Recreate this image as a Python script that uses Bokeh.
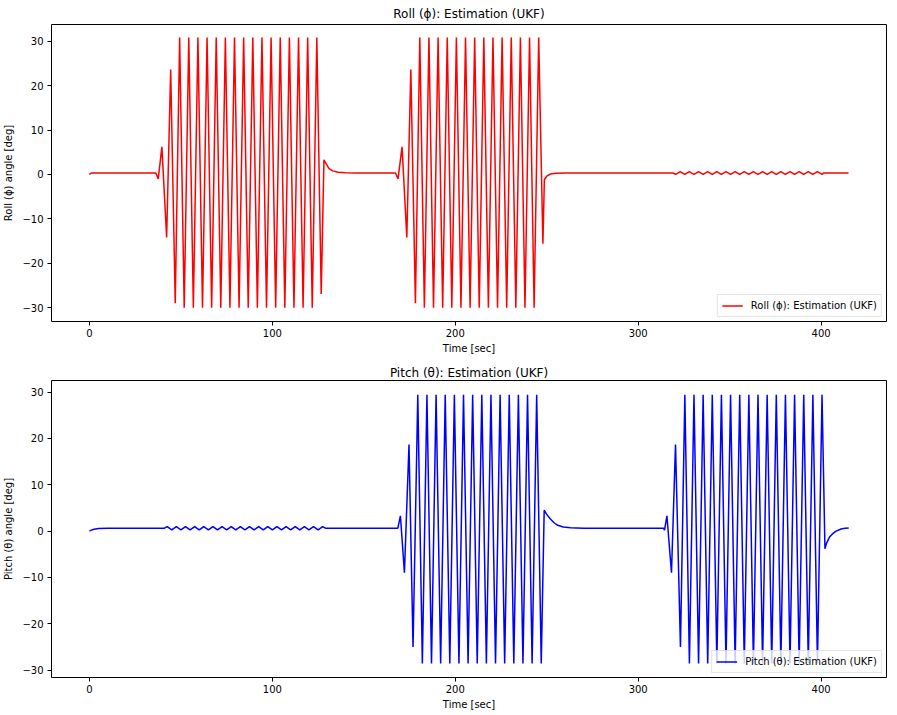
from bokeh.plotting import figure
from bokeh.models import ColumnDataSource, Range1d, FixedTicker, Legend, LegendItem
from bokeh.layouts import column
from bokeh.embed import file_html
from bokeh.resources import INLINE

# ---------------- data ----------------
roll_t = [
    0.0, 1.0, 36.3,
    37.6, 39.6, 42.2, 44.4, 46.9, 49.3,
    51.8, 54.3, 56.8, 59.3, 61.8, 64.3, 66.8, 69.3, 71.8, 74.3, 76.8, 79.3,
    81.8, 84.3, 86.8, 89.3, 91.8, 94.3, 96.8, 99.3, 101.8, 104.3, 106.8, 109.3,
    111.8, 114.3, 116.8, 119.3, 121.8, 124.3,
    126.7, 128.2, 129.5, 131.0, 133.0, 136.0, 140.0, 146.0, 167.3,
    168.7, 170.9, 173.5, 175.7, 178.2, 180.6,
    183.1, 185.6, 188.1, 190.6, 193.1, 195.6, 198.1, 200.6, 203.1, 205.6,
    208.1, 210.6, 213.1, 215.6, 218.1, 220.6, 223.1, 225.6, 228.1, 230.6,
    233.1, 235.6, 238.1, 240.6, 243.1, 245.6,
    247.9, 248.7, 250.0, 252.0, 255.0, 260.0, 319.0,
    320.5, 323.0, 325.5, 328.0, 330.5, 333.0, 335.5, 338.0, 340.5, 343.0,
    345.5, 348.0, 350.5, 353.0, 355.5, 358.0, 360.5, 363.0, 365.5, 368.0,
    370.5, 373.0, 375.5, 378.0, 380.5, 383.0, 385.5, 388.0, 390.5, 393.0,
    395.5, 398.0, 400.5,
    401.5, 415.0,
]
roll_v = [
    0.0, 0.33, 0.33,
    -1.0, 6.2, -14.2, 23.6, -29.0, 30.8,
    -30.0, 30.8, -30.0, 30.8, -30.0, 30.8, -30.0, 30.8, -30.0, 30.8, -30.0, 30.8,
    -30.0, 30.8, -30.0, 30.8, -30.0, 30.8, -30.0, 30.8, -30.0, 30.8, -30.0, 30.8,
    -30.0, 30.8, -30.0, 30.8, -30.0, 30.8,
    -26.9, 3.3, 2.3, 1.3, 0.8, 0.5, 0.4, 0.33, 0.33,
    -1.0, 6.2, -14.2, 23.6, -29.0, 30.8,
    -30.0, 30.8, -30.0, 30.8, -30.0, 30.8, -30.0, 30.8, -30.0, 30.8,
    -30.0, 30.8, -30.0, 30.8, -30.0, 30.8, -30.0, 30.8, -30.0, 30.8,
    -30.0, 30.8, -30.0, 30.8, -30.0, 30.8,
    -15.6, -1.2, -0.4, 0.1, 0.25, 0.33, 0.33,
    0.03, 0.63, 0.03, 0.63, 0.03, 0.63, 0.03, 0.63, 0.03, 0.63,
    0.03, 0.63, 0.03, 0.63, 0.03, 0.63, 0.03, 0.63, 0.03, 0.63,
    0.03, 0.63, 0.03, 0.63, 0.03, 0.63, 0.03, 0.63, 0.03, 0.63,
    0.03, 0.63, 0.03,
    0.33, 0.33,
]

pitch_t = [
    0.0, 1.0, 2.5, 5.0, 10.0, 41.0,
    42.5, 45.0, 47.5, 50.0, 52.5, 55.0, 57.5, 60.0, 62.5, 65.0, 67.5, 70.0,
    72.5, 75.0, 77.5, 80.0, 82.5, 85.0, 87.5, 90.0, 92.5, 95.0, 97.5, 100.0,
    102.5, 105.0, 107.5, 110.0, 112.5, 115.0, 117.5, 120.0, 122.5, 125.0, 127.5,
    129.0, 168.6,
    170.0, 172.2, 174.7, 176.9, 179.5,
    182.0, 184.5, 187.0, 189.5, 192.0, 194.5, 197.0, 199.5, 202.0, 204.5,
    207.0, 209.5, 212.0, 214.5, 217.0, 219.5, 222.0, 224.5, 227.0, 229.5,
    232.0, 234.5, 237.0, 239.5, 242.0, 244.5, 247.0,
    248.6, 250.0, 252.0, 254.0, 256.0, 259.0, 263.0, 270.0, 313.8,
    314.4, 315.7, 318.2, 320.4, 323.1, 325.5,
    328.0, 330.5, 333.0, 335.5, 338.0, 340.5, 343.0, 345.5, 348.0, 350.5,
    353.0, 355.5, 358.0, 360.5, 363.0, 365.5, 368.0, 370.5, 373.0, 375.5,
    378.0, 380.5, 383.0, 385.5, 388.0, 390.5, 393.0, 395.5, 398.0, 400.5,
    402.1, 403.0, 404.6, 406.5, 408.2, 410.9, 413.0, 415.1,
]
pitch_v = [
    0.0, 0.2, 0.4, 0.55, 0.62, 0.62,
    0.98, 0.26, 0.98, 0.26, 0.98, 0.26, 0.98, 0.26, 0.98, 0.26, 0.98, 0.26,
    0.98, 0.26, 0.98, 0.26, 0.98, 0.26, 0.98, 0.26, 0.98, 0.26, 0.98, 0.26,
    0.98, 0.26, 0.98, 0.26, 0.98, 0.26, 0.98, 0.26, 0.98, 0.26, 0.98,
    0.62, 0.62,
    3.3, -9.0, 18.7, -25.0, 29.4,
    -28.6, 29.4, -28.6, 29.4, -28.6, 29.4, -28.6, 29.4, -28.6, 29.4,
    -28.6, 29.4, -28.6, 29.4, -28.6, 29.4, -28.6, 29.4, -28.6, 29.4,
    -28.6, 29.4, -28.6, 29.4, -28.6, 29.4, -28.6,
    4.5, 3.6, 2.6, 1.8, 1.25, 0.9, 0.7, 0.62, 0.62,
    0.2, 3.3, -9.0, 18.7, -25.0, 29.4,
    -28.6, 29.4, -28.6, 29.4, -28.6, 29.4, -28.6, 29.4, -28.6, 29.4,
    -28.6, 29.4, -28.6, 29.4, -28.6, 29.4, -28.6, 29.4, -28.6, 29.4,
    -28.6, 29.4, -28.6, 29.4, -28.6, 29.4, -28.6, 29.4, -28.6, 29.4,
    -3.8, -2.6, -1.3, -0.5, 0.0, 0.45, 0.6, 0.67,
]

x_ticks = [0, 100, 200, 300, 400]
y_ticks = [-30, -20, -10, 0, 10, 20, 30]

roll_title = "Roll (ϕ): Estimation (UKF)"
pitch_title = "Pitch (θ): Estimation (UKF)"
roll_ylabel = "Roll (ϕ) angle [deg]"
pitch_ylabel = "Pitch (θ) angle [deg]"
x_label = "Time [sec]"

FONT = "DejaVu Sans"


def tick_overrides(ticks):
    return {t: (str(t).replace("-", "\u2212")) for t in ticks}


def make_panel(t, v, color, title, ylabel, y_range, top_border, bottom_border,
               title_standoff):
    p = figure(
        output_backend="svg", toolbar_location=None,
        frame_width=835, frame_height=297,
        min_border_left=45, min_border_right=1,
        min_border_top=top_border, min_border_bottom=bottom_border,
        x_range=Range1d(-20.75, 435.75), y_range=Range1d(*y_range),
        title=title,
    )
    p.title.align = "center"
    p.title.text_font = FONT
    p.title.text_font_size = "12px"
    p.title.text_font_style = "normal"
    p.title.text_color = "#000000"
    p.title.standoff = title_standoff
    p.title.offset = 0

    p.xgrid.visible = False
    p.ygrid.visible = False
    p.outline_line_color = "#000000"
    p.outline_line_width = 1
    p.background_fill_color = "white"
    p.border_fill_color = "white"

    for ax in (p.xaxis[0], p.yaxis[0]):
        ax.axis_line_color = None
        ax.major_tick_line_color = "#000000"
        ax.major_tick_out = 4
        ax.major_tick_in = 0
        ax.minor_tick_line_color = None
        ax.major_label_text_font = FONT
        ax.major_label_text_font_size = "10px"
        ax.major_label_text_color = "#000000"
        ax.axis_label_text_font = FONT
        ax.axis_label_text_font_size = "10px"
        ax.axis_label_text_font_style = "normal"
        ax.axis_label_text_color = "#000000"

    p.xaxis.ticker = FixedTicker(ticks=x_ticks)
    p.yaxis.ticker = FixedTicker(ticks=y_ticks)
    p.yaxis.major_label_overrides = tick_overrides(y_ticks)
    p.xaxis.major_label_standoff = 3
    p.yaxis.major_label_standoff = 4
    p.xaxis.axis_label = x_label
    p.yaxis.axis_label = ylabel
    p.xaxis.axis_label_standoff = 3
    p.yaxis.axis_label_standoff = 5

    src = ColumnDataSource(dict(t=t, v=v))
    r = p.line("t", "v", source=src, line_color=color, line_width=1.5)

    legend = Legend(items=[LegendItem(label=title, renderers=[r])])
    legend.location = "bottom_right"
    legend.margin = 4
    legend.padding = 4
    legend.spacing = 0
    legend.label_text_font = FONT
    legend.label_text_font_size = "10px"
    legend.label_text_color = "#000000"
    legend.label_height = 13
    legend.glyph_height = 13
    legend.glyph_width = 21
    legend.label_standoff = 8
    legend.border_line_color = "#cccccc"
    legend.border_line_width = 1
    legend.background_fill_color = "white"
    legend.background_fill_alpha = 0.8
    p.add_layout(legend, "center")
    return p


p1 = make_panel(roll_t, roll_v, "#ff0000", roll_title, roll_ylabel,
                (-33.1, 33.75), 16, 35, 8)
p2 = make_panel(pitch_t, pitch_v, "#0000ff", pitch_title, pitch_ylabel,
                (-31.6, 32.5), 24, 28, 2)

layout = column(p1, p2, spacing=0)

with open("out.html", "w") as f:
    f.write(file_html(layout, INLINE))
